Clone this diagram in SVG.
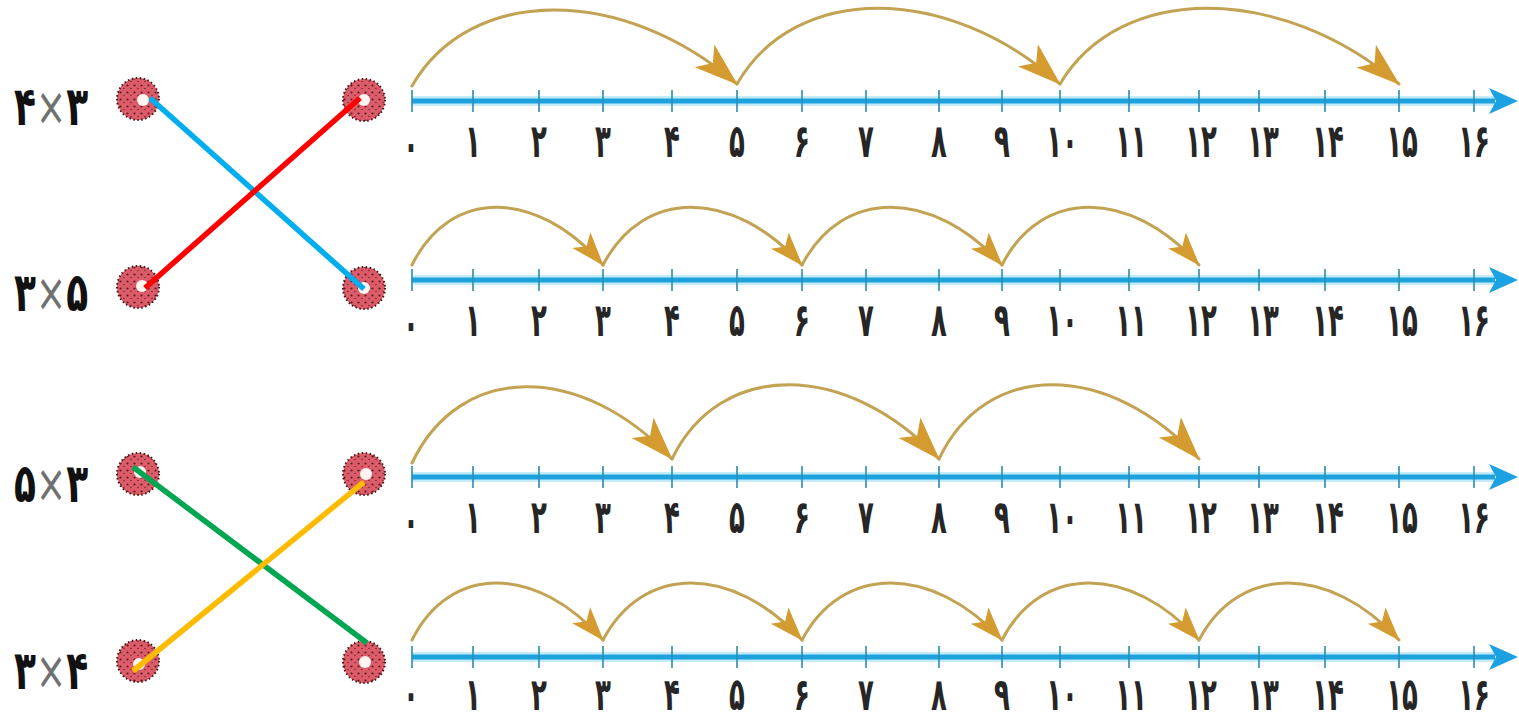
<svg xmlns="http://www.w3.org/2000/svg" width="1519" height="721" viewBox="0 0 1519 721">
<style>
.halo{stroke:#c4ebf9;stroke-width:10;fill:none}
.axis{stroke:#1ea2dd;stroke-width:5;fill:none}
.tick{stroke:#2a8db2;stroke-width:1.6}
.ahead{fill:#1aa2e2}
.num{font-family:"DejaVu Sans",sans-serif;font-size:26px;font-weight:bold;fill:#262626;text-anchor:middle}
.lbl{font-family:"DejaVu Sans",sans-serif;font-size:36px;font-weight:bold;fill:#111}
.x{fill:#707070;font-weight:normal}
.jump{fill:none;stroke:#c2a353;stroke-width:3;stroke-linecap:round}
.jb{marker-end:url(#headL)}
.js{marker-end:url(#headS)}
.donut{fill:url(#speck);stroke:#4a1515;stroke-width:2;stroke-dasharray:1.5 2.5}
.hole{fill:#fff4f0}
.conn{stroke-width:5.5;stroke-linecap:butt}
</style>
<defs>
<pattern id="speck" width="7" height="7" patternUnits="userSpaceOnUse">
<rect width="7" height="7" fill="#dc5c6a"/>
<circle cx="1.5" cy="1.5" r="1.1" fill="#5a1a20"/>
<circle cx="5" cy="4.5" r="0.8" fill="#7a2630"/>
</pattern>
<marker id="headL" markerUnits="userSpaceOnUse" markerWidth="44" markerHeight="36" viewBox="0 0 44 36" refX="43" refY="18" orient="auto">
<path d="M44,18 L0,3 L11,18 L0,33 Z" fill="#d49c30"/>
</marker>
<marker id="headS" markerUnits="userSpaceOnUse" markerWidth="34" markerHeight="28" viewBox="0 0 34 28" refX="33" refY="14" orient="auto">
<path d="M34,14 L0,2 L8,14 L0,26 Z" fill="#d49c30"/>
</marker>
</defs>
<rect width="1519" height="721" fill="#ffffff"/>

<!-- number line 1 -->
<g id="line1">
<line class="halo" x1="412" y1="101" x2="1495" y2="101"/>
<line class="axis" x1="412" y1="101" x2="1495" y2="101"/>
<path class="ahead" d="M1518,101 L1489,88 L1496,101 L1489,114 Z"/>
<g class="tick"><line x1="412" y1="90" x2="412" y2="112"/><line x1="473" y1="90" x2="473" y2="112"/><line x1="539" y1="90" x2="539" y2="112"/><line x1="603" y1="90" x2="603" y2="112"/><line x1="672" y1="90" x2="672" y2="112"/><line x1="737" y1="90" x2="737" y2="112"/><line x1="802" y1="90" x2="802" y2="112"/><line x1="866" y1="90" x2="866" y2="112"/><line x1="939" y1="90" x2="939" y2="112"/><line x1="1002" y1="90" x2="1002" y2="112"/><line x1="1060" y1="90" x2="1060" y2="112"/><line x1="1129" y1="90" x2="1129" y2="112"/><line x1="1199" y1="90" x2="1199" y2="112"/><line x1="1259" y1="90" x2="1259" y2="112"/><line x1="1325" y1="90" x2="1325" y2="112"/><line x1="1399" y1="90" x2="1399" y2="112"/><line x1="1474" y1="90" x2="1474" y2="112"/></g>
<g transform="translate(0,157) scale(1,1.78)"><text class="num" x="411" y="2">۰</text><text class="num" x="473" y="0">۱</text><text class="num" x="539" y="0">۲</text><text class="num" x="603" y="0">۳</text><text class="num" x="672" y="0">۴</text><text class="num" x="737" y="0">۵</text><text class="num" x="802" y="0">۶</text><text class="num" x="866" y="0">۷</text><text class="num" x="939" y="0">۸</text><text class="num" x="1002" y="0">۹</text><text class="num" x="1062" y="0">۱۰</text><text class="num" x="1131" y="0">۱۱</text><text class="num" x="1201" y="0">۱۲</text><text class="num" x="1263" y="0">۱۳</text><text class="num" x="1328" y="0">۱۴</text><text class="num" x="1402" y="0">۱۵</text><text class="num" x="1474" y="0">۱۶</text></g>
<path class="jump jb" d="M412,86 C470,-15 623,-15 737,84"/>
<path class="jump jb" d="M737,84 C795,-17 947,-17 1060,84"/>
<path class="jump jb" d="M1060,84 C1120,-17 1280,-17 1399,84"/>
</g>

<!-- number line 2 -->
<g id="line2">
<line class="halo" x1="412" y1="280" x2="1495" y2="280"/>
<line class="axis" x1="412" y1="280" x2="1495" y2="280"/>
<path class="ahead" d="M1518,280 L1489,267 L1496,280 L1489,293 Z"/>
<g class="tick"><line x1="412" y1="269" x2="412" y2="291"/><line x1="473" y1="269" x2="473" y2="291"/><line x1="539" y1="269" x2="539" y2="291"/><line x1="603" y1="269" x2="603" y2="291"/><line x1="672" y1="269" x2="672" y2="291"/><line x1="737" y1="269" x2="737" y2="291"/><line x1="802" y1="269" x2="802" y2="291"/><line x1="866" y1="269" x2="866" y2="291"/><line x1="939" y1="269" x2="939" y2="291"/><line x1="1002" y1="269" x2="1002" y2="291"/><line x1="1060" y1="269" x2="1060" y2="291"/><line x1="1129" y1="269" x2="1129" y2="291"/><line x1="1199" y1="269" x2="1199" y2="291"/><line x1="1259" y1="269" x2="1259" y2="291"/><line x1="1325" y1="269" x2="1325" y2="291"/><line x1="1399" y1="269" x2="1399" y2="291"/><line x1="1474" y1="269" x2="1474" y2="291"/></g>
<g transform="translate(0,336) scale(1,1.78)"><text class="num" x="411" y="2">۰</text><text class="num" x="473" y="0">۱</text><text class="num" x="539" y="0">۲</text><text class="num" x="603" y="0">۳</text><text class="num" x="672" y="0">۴</text><text class="num" x="737" y="0">۵</text><text class="num" x="802" y="0">۶</text><text class="num" x="866" y="0">۷</text><text class="num" x="939" y="0">۸</text><text class="num" x="1002" y="0">۹</text><text class="num" x="1062" y="0">۱۰</text><text class="num" x="1131" y="0">۱۱</text><text class="num" x="1201" y="0">۱۲</text><text class="num" x="1263" y="0">۱۳</text><text class="num" x="1328" y="0">۱۴</text><text class="num" x="1402" y="0">۱۵</text><text class="num" x="1474" y="0">۱۶</text></g>
<path class="jump js" d="M412,265 C450,188 536,188 603,265"/>
<path class="jump js" d="M603,265 C643,188 732,188 802,265"/>
<path class="jump js" d="M802,265 C842,188 932,188 1002,265"/>
<path class="jump js" d="M1002,265 C1041,188 1130,188 1199,265"/>
</g>

<!-- number line 3 -->
<g id="line3">
<line class="halo" x1="412" y1="477" x2="1495" y2="477"/>
<line class="axis" x1="412" y1="477" x2="1495" y2="477"/>
<path class="ahead" d="M1518,477 L1489,464 L1496,477 L1489,490 Z"/>
<g class="tick"><line x1="412" y1="466" x2="412" y2="488"/><line x1="473" y1="466" x2="473" y2="488"/><line x1="539" y1="466" x2="539" y2="488"/><line x1="603" y1="466" x2="603" y2="488"/><line x1="672" y1="466" x2="672" y2="488"/><line x1="737" y1="466" x2="737" y2="488"/><line x1="802" y1="466" x2="802" y2="488"/><line x1="866" y1="466" x2="866" y2="488"/><line x1="939" y1="466" x2="939" y2="488"/><line x1="1002" y1="466" x2="1002" y2="488"/><line x1="1060" y1="466" x2="1060" y2="488"/><line x1="1129" y1="466" x2="1129" y2="488"/><line x1="1199" y1="466" x2="1199" y2="488"/><line x1="1259" y1="466" x2="1259" y2="488"/><line x1="1325" y1="466" x2="1325" y2="488"/><line x1="1399" y1="466" x2="1399" y2="488"/><line x1="1474" y1="466" x2="1474" y2="488"/></g>
<g transform="translate(0,533) scale(1,1.78)"><text class="num" x="411" y="2">۰</text><text class="num" x="473" y="0">۱</text><text class="num" x="539" y="0">۲</text><text class="num" x="603" y="0">۳</text><text class="num" x="672" y="0">۴</text><text class="num" x="737" y="0">۵</text><text class="num" x="802" y="0">۶</text><text class="num" x="866" y="0">۷</text><text class="num" x="939" y="0">۸</text><text class="num" x="1002" y="0">۹</text><text class="num" x="1062" y="0">۱۰</text><text class="num" x="1131" y="0">۱۱</text><text class="num" x="1201" y="0">۱۲</text><text class="num" x="1263" y="0">۱۳</text><text class="num" x="1328" y="0">۱۴</text><text class="num" x="1402" y="0">۱۵</text><text class="num" x="1474" y="0">۱۶</text></g>
<path class="jump jb" d="M412,463 C460,362 581,362 672,459"/>
<path class="jump jb" d="M672,459 C720,360 846,360 939,459"/>
<path class="jump jb" d="M939,459 C986,360 1108,360 1199,459"/>
</g>

<!-- number line 4 -->
<g id="line4">
<line class="halo" x1="412" y1="657" x2="1495" y2="657"/>
<line class="axis" x1="412" y1="657" x2="1495" y2="657"/>
<path class="ahead" d="M1518,657 L1489,644 L1496,657 L1489,670 Z"/>
<g class="tick"><line x1="412" y1="646" x2="412" y2="668"/><line x1="473" y1="646" x2="473" y2="668"/><line x1="539" y1="646" x2="539" y2="668"/><line x1="603" y1="646" x2="603" y2="668"/><line x1="672" y1="646" x2="672" y2="668"/><line x1="737" y1="646" x2="737" y2="668"/><line x1="802" y1="646" x2="802" y2="668"/><line x1="866" y1="646" x2="866" y2="668"/><line x1="939" y1="646" x2="939" y2="668"/><line x1="1002" y1="646" x2="1002" y2="668"/><line x1="1060" y1="646" x2="1060" y2="668"/><line x1="1129" y1="646" x2="1129" y2="668"/><line x1="1199" y1="646" x2="1199" y2="668"/><line x1="1259" y1="646" x2="1259" y2="668"/><line x1="1325" y1="646" x2="1325" y2="668"/><line x1="1399" y1="646" x2="1399" y2="668"/><line x1="1474" y1="646" x2="1474" y2="668"/></g>
<g transform="translate(0,710) scale(1,1.74)"><text class="num" x="411" y="0">۰</text><text class="num" x="473" y="0">۱</text><text class="num" x="539" y="0">۲</text><text class="num" x="603" y="0">۳</text><text class="num" x="672" y="0">۴</text><text class="num" x="737" y="0">۵</text><text class="num" x="802" y="0">۶</text><text class="num" x="866" y="0">۷</text><text class="num" x="939" y="0">۸</text><text class="num" x="1002" y="0">۹</text><text class="num" x="1062" y="0">۱۰</text><text class="num" x="1131" y="0">۱۱</text><text class="num" x="1201" y="0">۱۲</text><text class="num" x="1263" y="0">۱۳</text><text class="num" x="1328" y="0">۱۴</text><text class="num" x="1402" y="0">۱۵</text><text class="num" x="1474" y="0">۱۶</text></g>
<path class="jump js" d="M412,640 C450,564 536,564 603,640"/>
<path class="jump js" d="M603,640 C643,564 732,564 802,640"/>
<path class="jump js" d="M802,640 C842,564 932,564 1002,640"/>
<path class="jump js" d="M1002,640 C1041,564 1130,564 1199,640"/>
<path class="jump js" d="M1199,640 C1239,564 1329,564 1399,640"/>
</g>

<!-- left nodes with labels -->
<g id="nodeL1"><g transform="translate(0,125) scale(1,1.5)"><text class="lbl" x="14" y="0">۴<tspan class="x">×</tspan>۳</text></g><circle class="donut" cx="138" cy="99" r="21"/><circle class="hole" cx="143" cy="100" r="6"/></g>
<g id="nodeL2"><g transform="translate(0,311) scale(1,1.5)"><text class="lbl" x="14" y="0">۳<tspan class="x">×</tspan>۵</text></g><circle class="donut" cx="138" cy="287" r="21"/><circle class="hole" cx="142" cy="286" r="6"/></g>
<g id="nodeL3"><g transform="translate(0,502) scale(1,1.5)"><text class="lbl" x="14" y="0">۵<tspan class="x">×</tspan>۳</text></g><circle class="donut" cx="138" cy="474" r="21"/><circle class="hole" cx="140" cy="472" r="6"/></g>
<g id="nodeL4"><g transform="translate(0,689) scale(1,1.5)"><text class="lbl" x="14" y="0">۳<tspan class="x">×</tspan>۴</text></g><circle class="donut" cx="138" cy="661" r="21"/><circle class="hole" cx="139" cy="664" r="6"/></g>

<!-- right nodes -->
<g id="nodeR1"><circle class="donut" cx="364" cy="100" r="21"/><circle class="hole" cx="364" cy="100" r="6"/></g>
<g id="nodeR2"><circle class="donut" cx="364" cy="288" r="21"/><circle class="hole" cx="364" cy="288" r="6"/></g>
<g id="nodeR3"><circle class="donut" cx="364" cy="474" r="21"/><circle class="hole" cx="366" cy="474" r="6"/></g>
<g id="nodeR4"><circle class="donut" cx="364" cy="662" r="21"/><circle class="hole" cx="365" cy="662" r="6"/></g>

<!-- connectors -->
<g id="connectors">
<line class="conn" x1="150" y1="98" x2="364" y2="289" stroke="#00aeef"/>
<line class="conn" x1="145" y1="288" x2="360" y2="98" stroke="#ff0000"/>
<line class="conn" x1="133" y1="467" x2="367" y2="643" stroke="#00a651"/>
<line class="conn" x1="133" y1="671" x2="364" y2="482" stroke="#ffbb00"/>
</g>
</svg>
